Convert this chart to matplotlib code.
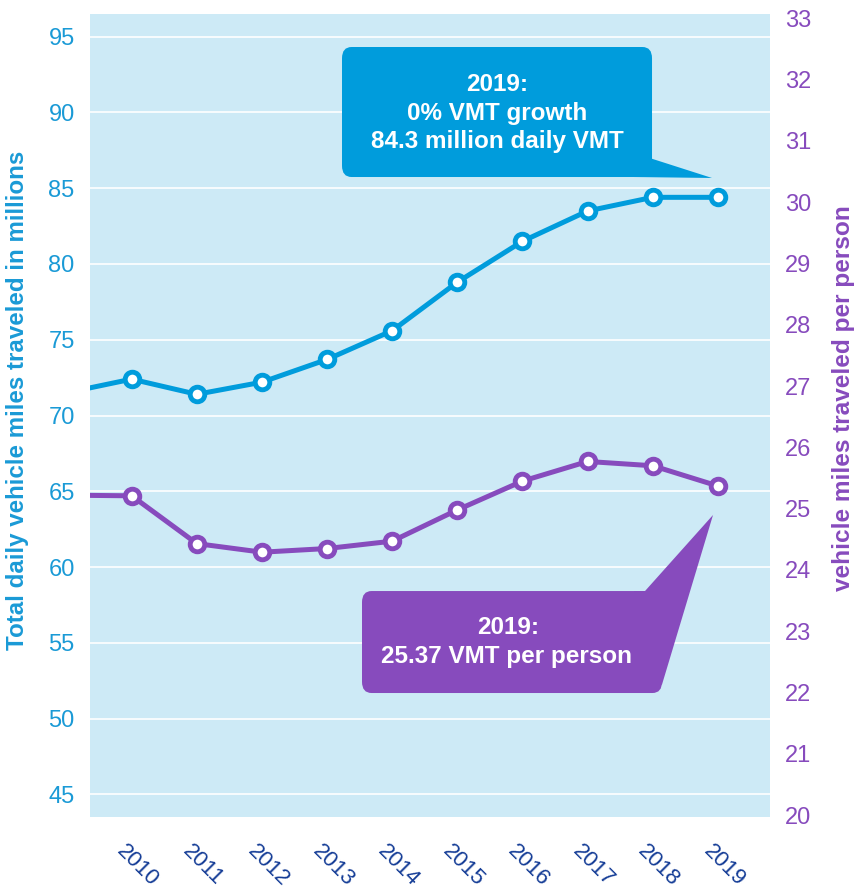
import matplotlib
matplotlib.use("Agg")
import matplotlib.pyplot as plt
from matplotlib.patches import FancyBboxPatch, Polygon
import matplotlib.transforms as mtransforms

plt.rcParams['font.family'] = ['Liberation Sans', 'DejaVu Sans']

# Datos (2009 queda fuera del eje, solo para que la linea entre por la izquierda)
anios = [2009, 2010, 2011, 2012, 2013, 2014, 2015, 2016, 2017, 2018, 2019]
vmt_millones = [71.5, 72.4, 71.4, 72.2, 73.7, 75.6, 78.8, 81.5, 83.5, 84.4, 84.4]
vmt_por_persona = [25.22, 25.21, 24.43, 24.29, 24.35, 24.47, 24.98, 25.45, 25.77, 25.70, 25.37]
etiquetas_x = [str(a) for a in anios[1:]]
ticks_izq = [45, 50, 55, 60, 65, 70, 75, 80, 85, 90, 95]
ticks_der = list(range(20, 34))

azul = '#009cdc'
morado = '#874bbd'
fondo = '#cdeaf6'
azul_txt = '#1a9ad6'
navy = '#143c96'

fig = plt.figure(figsize=(8.55, 8.93), dpi=100)
ax = fig.add_axes([90 / 855, 76 / 893, 680 / 855, 803 / 893])
ax.set_facecolor(fondo)
ax2 = ax.twinx()

# Linea azul: total diario
ax.plot(anios, vmt_millones, color=azul, lw=3.6, marker='o', ms=10.5,
        mfc='white', mec=azul, mew=3.5, zorder=3)
# Linea morada: por persona
ax2.plot(anios, vmt_por_persona, color=morado, lw=3.6, marker='o', ms=10.5,
         mfc='white', mec=morado, mew=3.5, zorder=3)

ax.set_xlim(2009.36, 2019.8)
ax.set_ylim(43.5, 96.5)
ax2.set_ylim(19.97, 33.07)

ax.set_yticks(ticks_izq)
ax.set_yticklabels([str(t) for t in ticks_izq])
ax2.set_yticks(ticks_der)
ax2.set_yticklabels([str(t) for t in ticks_der])
ax.set_xticks(anios[1:])
ax.set_xticklabels(etiquetas_x, rotation=-45, ha='center', va='top')

ax.grid(axis='y', color='white', lw=1.2)
ax.set_axisbelow(True)
for a in (ax, ax2):
    for s in a.spines.values():
        s.set_visible(False)

ax.tick_params(axis='y', length=0, pad=11, labelsize=17, labelcolor=azul_txt)
ax2.tick_params(axis='y', length=0, pad=11, labelsize=17, labelcolor=morado)
ax.tick_params(axis='x', length=0, pad=17, labelsize=16, labelcolor=navy)
desplaz = mtransforms.ScaledTranslation(6 / 100, 0, fig.dpi_scale_trans)
for lab in ax.get_xticklabels():
    lab.set_transform(lab.get_transform() + desplaz)

# Titulos de los ejes
ax.text(-0.106, 0.519, 'Total daily vehicle miles traveled in millions',
        transform=ax.transAxes, rotation=90, ha='center', va='center',
        fontsize=17.4, fontweight='bold', color=azul_txt)
ax.text(1.108, 0.522, 'vehicle miles traveled per person',
        transform=ax.transAxes, rotation=90, ha='center', va='center',
        fontsize=17.6, fontweight='bold', color=morado)

# Globo azul
caja_azul = FancyBboxPatch((0.3706, 0.797), 0.4559, 0.1619,
                           boxstyle='round,pad=0,rounding_size=0.014',
                           transform=ax2.transAxes, fc=azul, ec='none', zorder=5)
ax2.add_patch(caja_azul)
ax2.add_patch(Polygon([(0.80, 0.8269), (0.9147, 0.7958), (0.80, 0.797)],
                      closed=True, transform=ax2.transAxes, fc=azul, ec='none', zorder=5))
for yy, txt in zip([0.9121, 0.8766, 0.8411],
                   ['2019:', '0% VMT growth', '84.3 million daily VMT']):
    ax2.text(0.5985, yy, txt, transform=ax2.transAxes, ha='center', va='center',
             fontsize=17.5, fontweight='bold', color='white', zorder=6)

# Globo morado
caja_morada = FancyBboxPatch((0.40, 0.1544), 0.4412, 0.127,
                             boxstyle='round,pad=0,rounding_size=0.014',
                             transform=ax2.transAxes, fc=morado, ec='none', zorder=5)
ax2.add_patch(caja_morada)
ax2.add_patch(Polygon([(0.80, 0.2814), (0.8162, 0.2814), (0.9162, 0.3761),
                       (0.8412, 0.165), (0.80, 0.165)],
                      closed=True, transform=ax2.transAxes, fc=morado, ec='none', zorder=5))
ax2.text(0.6147, 0.2366, '2019:', transform=ax2.transAxes, ha='center', va='center',
         fontsize=17.5, fontweight='bold', color='white', zorder=6)
ax2.text(0.6132, 0.1993, '25.37 VMT per person', transform=ax2.transAxes,
         ha='center', va='center', fontsize=17.5, fontweight='bold',
         color='white', zorder=6)

plt.savefig('out.png', dpi=100)
